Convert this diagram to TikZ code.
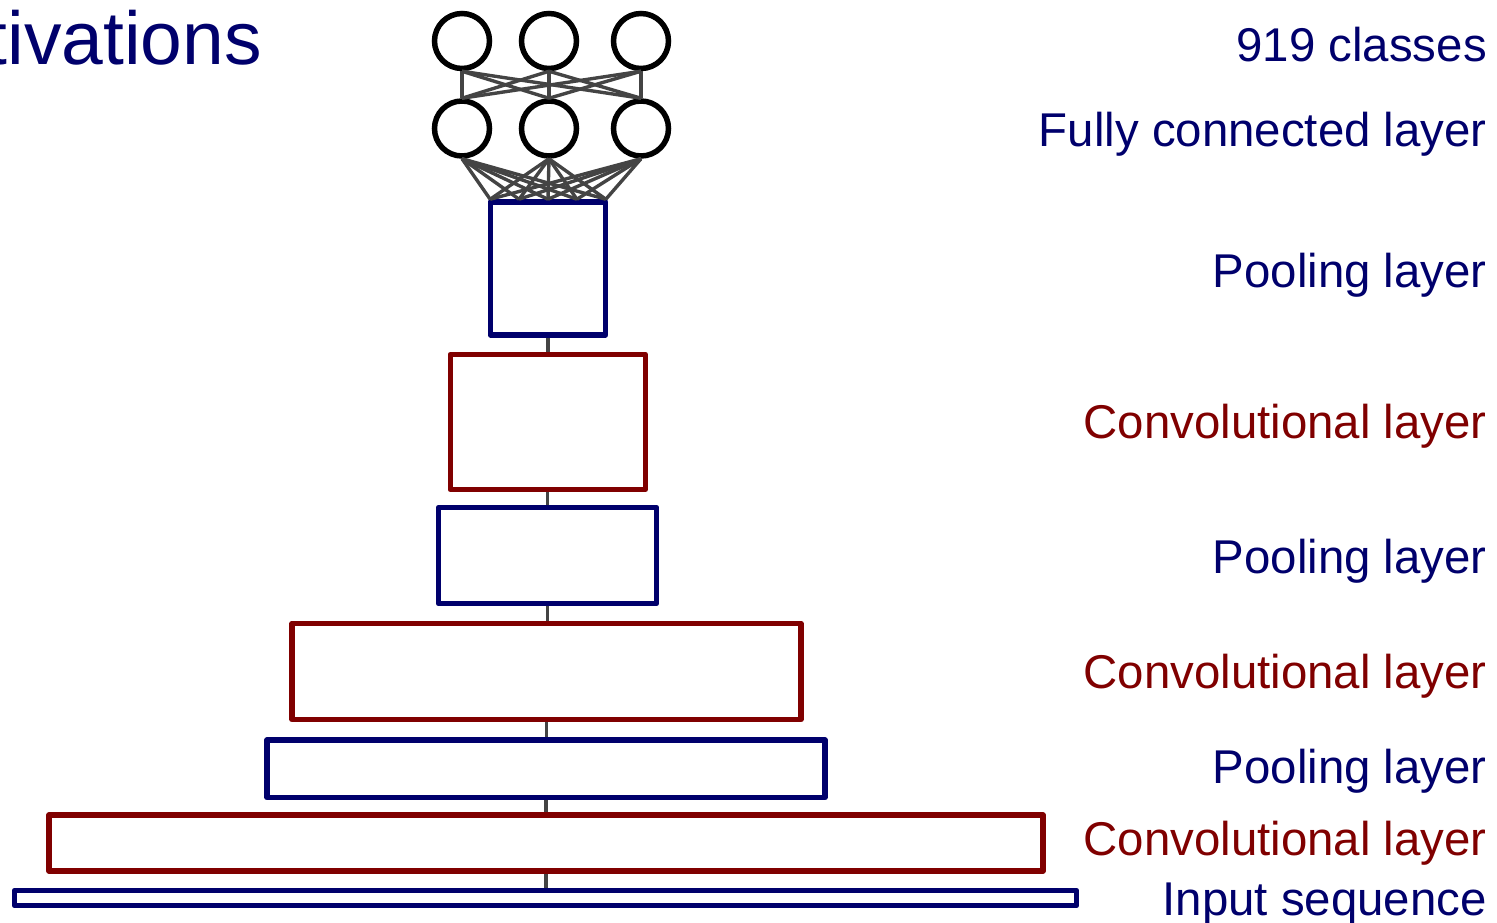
\documentclass[tikz,border=0pt]{standalone}
\usepackage{fontspec}
\setmainfont{Liberation Sans}
\usetikzlibrary{calc}
\definecolor{poolblue}{RGB}{0,0,108}
\definecolor{convred}{RGB}{128,0,0}
\definecolor{wire}{RGB}{68,68,68}
\begin{document}
\begin{tikzpicture}[x=1pt,y=-1pt,
  layerbox/.style={draw,rectangle,line width=5.5pt,inner sep=0pt,line join=round},
  poolbox/.style={layerbox,draw=poolblue},
  convbox/.style={layerbox,draw=convred},
  neuron/.style={draw=black,circle,line width=5.5pt,inner sep=0pt,minimum size=55pt},
  link/.style={draw=wire,line width=3.4pt},
  label/.style={anchor=base east,inner sep=0pt,font=\fontsize{47.4}{56}\selectfont},
  poollabel/.style={label,text=poolblue},
  convlabel/.style={label,text=convred}]
\useasboundingbox (0,0) rectangle (1497,923);

% output neurons and fully connected layer
\node[neuron] (o1) at (462,41) {};
\node[neuron] (o2) at (549,41) {};
\node[neuron] (o3) at (641,41) {};
\node[neuron] (h1) at (462,128.5) {};
\node[neuron] (h2) at (549,128.5) {};
\node[neuron] (h3) at (641,128.5) {};

% layer stack, top to bottom
\node[poolbox,minimum width=115pt,minimum height=133pt] (p3) at (548,268.5) {};
\node[convbox,minimum width=195pt,minimum height=135pt] (c3) at (547.75,422) {};
\node[poolbox,minimum width=218pt,minimum height=96pt] (p2) at (547.5,555.5) {};
\node[convbox,minimum width=509pt,minimum height=96pt] (c2) at (546.5,671.5) {};
\node[poolbox,minimum width=558pt,minimum height=57.5pt] (p1) at (546,768.75) {};
\node[convbox,minimum width=994pt,minimum height=56pt] (c1) at (546,843) {};
\node[poolbox,minimum width=1062pt,minimum height=15pt] (in) at (545.5,898) {};

% all-to-all links between the two neuron rows
\foreach \a in {o1,o2,o3}
  \foreach \b in {h1,h2,h3}
    \draw[link] (\a.south) -- (\b.north);

% links from the hidden neurons into the top pooling layer
\foreach \k/\f in {1/0.02,2/0.26,3/0.5,4/0.74,5/0.98}
  \coordinate (f\k) at ($(p3.north west)!\f!(p3.north east)$);
\foreach \a in {h1,h2,h3}
  \foreach \k in {1,...,5}
    \draw[link] (\a.south) -- (f\k);

% vertical links between consecutive layers
\foreach \u/\l in {p3/c3,c3/p2,p2/c2,c2/p1,p1/c1,c1/in}
  \draw[link] (\u.south) -- (\u.south |- \l.north);

% labels
\node[anchor=base east,inner sep=0pt,text=poolblue,font=\fontsize{75}{90}\selectfont] (title) at (262,65) {tivations};
\node[poollabel] (l0) at (1487,62) {919 classes};
\node[poollabel] (l1) at (1487,147) {Fully connected layer};
\node[poollabel] (l2) at (1487,287) {Pooling layer};
\node[convlabel] (l3) at (1487,438) {Convolutional layer};
\node[poollabel] (l4) at (1487,573) {Pooling layer};
\node[convlabel] (l5) at (1487,688) {Convolutional layer};
\node[poollabel] (l6) at (1487,783) {Pooling layer};
\node[convlabel] (l7) at (1487,855) {Convolutional layer};
\node[poollabel] (l8) at (1487,915) {Input sequence};
\end{tikzpicture}
\end{document}
